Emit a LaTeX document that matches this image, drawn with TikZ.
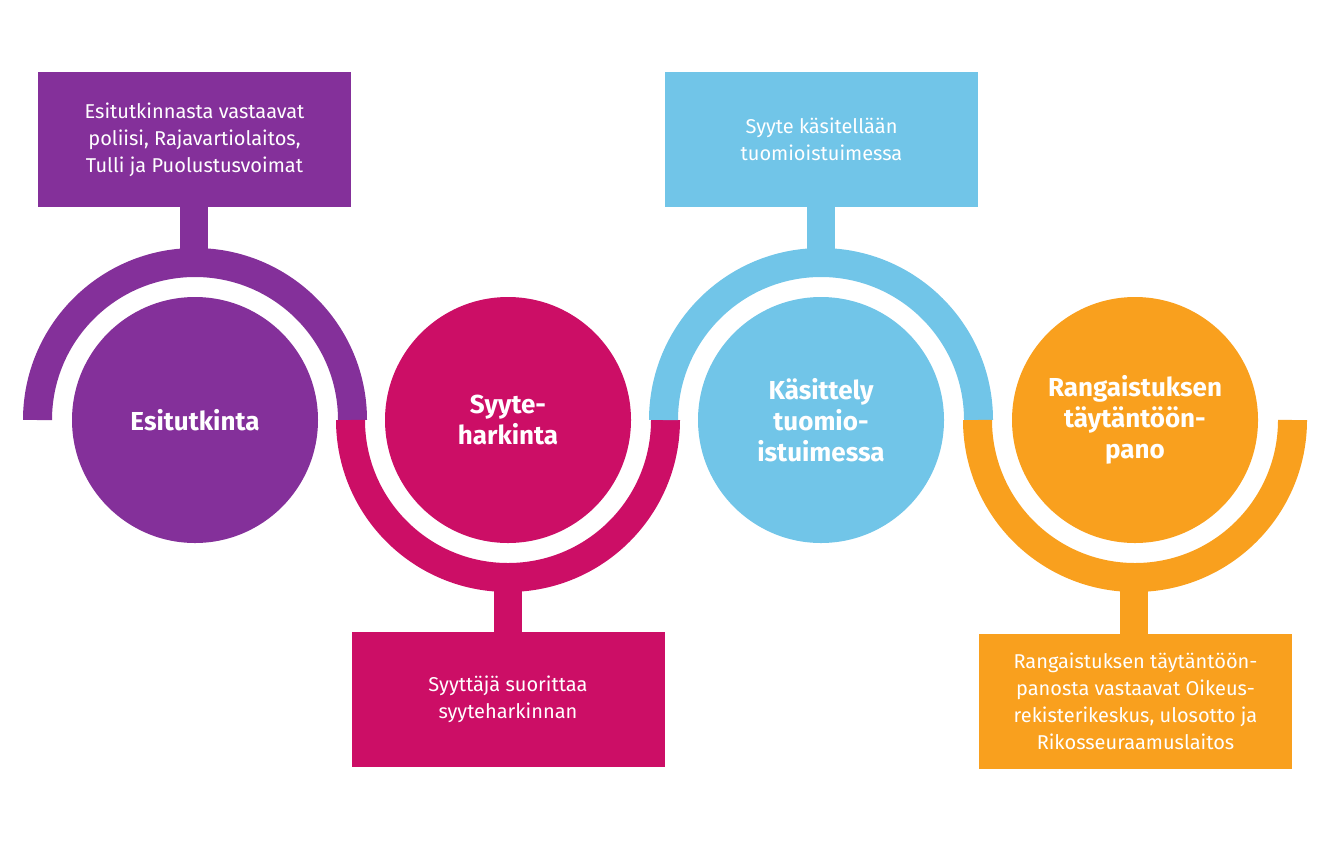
\documentclass[tikz,border=0pt]{standalone}
\usepackage{fontspec}
\setmainfont{Fira Sans}
\definecolor{colP}{HTML}{84309A}
\definecolor{colM}{HTML}{CC0E66}
\definecolor{colB}{HTML}{71C5E8}
\definecolor{colO}{HTML}{F9A01E}
\begin{document}
\begin{tikzpicture}[x=1pt,y=-1pt,
 circ/.style={circle,minimum size=246pt,inner sep=0pt,text=white,font=\fontsize{26}{31}\selectfont\bfseries,align=center},
 box/.style={rectangle,minimum width=313pt,minimum height=135pt,text=white,font=\fontsize{20}{27}\selectfont,align=center,inner sep=0pt},
 ring/.style={line width=29pt}]
\useasboundingbox (0,0) rectangle (1329,841);
% rings
\draw[ring,colP] (195,420) ++(-157.5,0) arc(180:360:157.5);
\draw[ring,colM] (508,420) ++(-157.5,0) arc(180:0:157.5);
\draw[ring,colB] (821,420) ++(-157.5,0) arc(180:360:157.5);
\draw[ring,colO] (1135,420) ++(-157.5,0) arc(180:0:157.5);
% stems
\fill[colP] (180,205) rectangle (208,251);
\fill[colM] (494,589) rectangle (522,634);
\fill[colB] (807,205) rectangle (835,251);
\fill[colO] (1120,589) rectangle (1148,636);
% circles
\node[circ,fill=colP] (c1) at (195,420) {Esitutkinta};
\node[circ,fill=colM] (c2) at (508,420) {Syyte-\\harkinta};
\node[circ,fill=colB] (c3) at (821,420) {Käsittely\\tuomio-\\istuimessa};
\node[circ,fill=colO] (c4) at (1135,420) {Rangaistuksen\\täytäntöön-\\pano};
% boxes
\node[box,fill=colP] (b1) at (194.5,139.5) {Esitutkinnasta vastaavat\\poliisi, Rajavartiolaitos,\\Tulli ja Puolustusvoimat};
\node[box,fill=colM] (b2) at (508,699.5) {Syyttäjä suorittaa\\syyteharkinnan};
\node[box,fill=colB] (b3) at (821.5,139.5) {Syyte käsitellään\\tuomioistuimessa};
\node[box,fill=colO] (b4) at (1135.5,701.5) {Rangaistuksen täytäntöön-\\panosta vastaavat Oikeus-\\rekisterikeskus, ulosotto ja\\Rikosseuraamuslaitos};
\end{tikzpicture}
\end{document}
